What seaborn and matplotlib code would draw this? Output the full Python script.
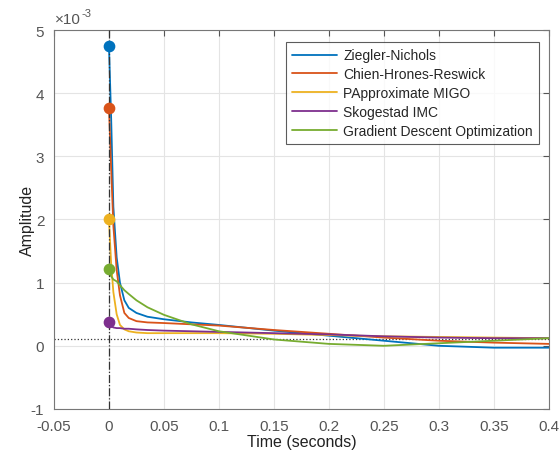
import matplotlib
matplotlib.use("Agg")
import matplotlib.pyplot as plt
import seaborn as sns
import pandas as pd
import numpy as np

sns.set_style("white")
plt.rcParams['font.family'] = ['Liberation Sans', 'DejaVu Sans']
plt.rcParams['axes.unicode_minus'] = False

# time grid (seconds) and step responses, amplitude in units of 1e-3
t = [0, 0.002, 0.004, 0.007, 0.01, 0.014, 0.018, 0.025, 0.035, 0.05,
     0.075, 0.1, 0.15, 0.2, 0.25, 0.3, 0.35, 0.4]
zn = [4.75, 3.6, 2.2, 1.4, 1.0, 0.72, 0.6, 0.52, 0.46, 0.42,
      0.37, 0.33, 0.24, 0.16, 0.08, 0.0, -0.03, -0.03]
chr_ = [3.77, 2.8, 1.9, 1.2, 0.8, 0.52, 0.44, 0.39, 0.37, 0.36,
        0.34, 0.32, 0.25, 0.19, 0.13, 0.08, 0.05, 0.03]
migo = [2.0, 1.3, 0.85, 0.5, 0.33, 0.26, 0.23, 0.21, 0.2, 0.2,
        0.2, 0.2, 0.19, 0.17, 0.15, 0.14, 0.13, 0.12]
imc = [0.37, 0.31, 0.29, 0.28, 0.28, 0.27, 0.27, 0.26, 0.25, 0.24,
       0.23, 0.22, 0.2, 0.18, 0.15, 0.13, 0.12, 0.12]
gdo = [1.22, 1.1, 1.05, 1.02, 0.96, 0.88, 0.82, 0.72, 0.61, 0.49,
       0.34, 0.23, 0.1, 0.03, 0.0, 0.04, 0.08, 0.12]
steady = 0.1

labels = ['Ziegler-Nichols', 'Chien-Hrones-Reswick', 'PApproximate MIGO',
          'Skogestad IMC', 'Gradient Descent Optimization']
series = [zn, chr_, migo, imc, gdo]
colors = ['#0072BD', '#D95319', '#EDB120', '#7E2F8E', '#77AC30']
xticks = [-0.05, 0, 0.05, 0.1, 0.15, 0.2, 0.25, 0.3, 0.35, 0.4]
xticklabels = ['-0.05', '0', '0.05', '0.1', '0.15', '0.2', '0.25', '0.3', '0.35', '0.4']
yticks = [-1, 0, 1, 2, 3, 4, 5]

fig = plt.figure(figsize=(5.6, 4.56), dpi=100)
ax = fig.add_axes([0.0964, 0.101, 0.8836, 0.831])

for lab, ys, c in zip(labels, series, colors):
    df = pd.DataFrame({'t': t, 'y': ys})
    sns.lineplot(data=df, x='t', y='y', color=c, lw=1.3, label=lab, ax=ax)

# peak markers at t = 0
for ys, c in zip(series, colors):
    ax.scatter([t[0]], [ys[0]], s=55, color=c, zorder=5)

ax.axhline(steady, color='#333333', ls=':', lw=0.9, zorder=1)
ax.axvline(0, color='#333333', ls='-.', lw=0.9, zorder=4)

ax.set_xlim(-0.05, 0.4)
ax.set_ylim(-1, 5)
ax.set_xticks(xticks)
ax.set_xticklabels(xticklabels)
ax.set_yticks(yticks)
ax.set_yticklabels([str(v) for v in yticks])

# MATLAB-style exponent label
ax.annotate('×10', xy=(0, 1), xycoords='axes fraction', xytext=(1, 3),
            textcoords='offset points', fontsize=11, color='#555555',
            ha='left', va='bottom')
ax.annotate('-3', xy=(0, 1), xycoords='axes fraction', xytext=(20, 9),
            textcoords='offset points', fontsize=8, color='#555555',
            ha='left', va='bottom')

ax.grid(True, color='#e4e4e4', lw=0.8)
ax.tick_params(direction='in', top=True, right=True, length=4, labelsize=11,
               colors='#555555', labelcolor='#555555')
ax.tick_params(axis='x', pad=7)
ax.tick_params(axis='y', pad=7)
for s in ax.spines.values():
    s.set_color('#777777')
    s.set_linewidth(0.8)

ax.set_xlabel('Time (seconds)', fontsize=11.5, color='#222222', labelpad=1)
ax.set_ylabel('Amplitude', fontsize=11.5, color='#222222', labelpad=-3)

leg = ax.legend(loc='upper right', fontsize=10, frameon=True, fancybox=False,
                edgecolor='#333333', borderpad=0.45, handlelength=3.2,
                handletextpad=0.45, labelspacing=0.35, borderaxespad=0,
                bbox_to_anchor=(0.98, 0.968))
leg.get_frame().set_linewidth(0.8)

fig.savefig('out.png', dpi=100)
